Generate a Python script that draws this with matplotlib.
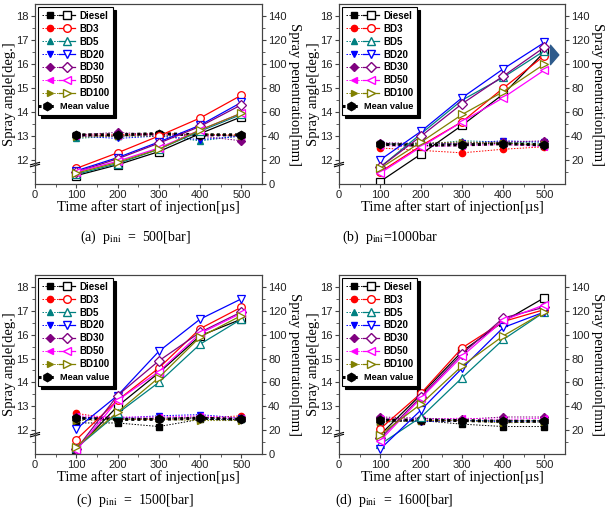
import matplotlib
matplotlib.use("Agg")
import matplotlib.pyplot as plt
from matplotlib.lines import Line2D
from matplotlib.legend_handler import HandlerTuple, HandlerLine2D

plt.rcParams['font.family'] = ['Liberation Sans', 'DejaVu Sans']
plt.rcParams['mathtext.fontset'] = 'stix'

time = [100, 200, 300, 400, 500]
fuels = ['Diesel', 'BD3', 'BD5', 'BD20', 'BD30', 'BD50', 'BD100']
colors = ['#000000', '#ff0000', '#008080', '#0000ff', '#800080', '#ff00ff', '#808000']
markers = ['s', 'o', '^', 'v', 'D', '<', '>']

# spray angle [deg.] (filled markers), order as fuels
angle_a = [[13.05, 13.0, 13.1, 13.05, 13.0],
           [13.05, 13.05, 13.1, 13.05, 13.05],
           [12.9, 13.0, 13.0, 12.8, 13.0],
           [13.0, 12.9, 13.0, 12.85, 13.0],
           [13.05, 13.15, 13.05, 13.0, 12.8],
           [13.0, 13.0, 13.05, 13.05, 13.0],
           [12.95, 13.0, 13.0, 13.1, 13.0]]
mean_a = [13.05, 13.05, 13.1, 13.05, 13.05]
# spray penetration [mm] (open markers)
pen_a = [[7, 16, 27, 42, 56],
         [13, 26, 40, 55, 74],
         [8, 17, 29, 44, 58],
         [11, 22, 35, 49, 68],
         [10, 21, 34, 48, 66],
         [10, 19, 30, 45, 59],
         [9, 18, 29, 45, 59]]

angle_b = [[12.65, 12.6, 12.65, 12.7, 12.6],
           [12.5, 12.4, 12.3, 12.45, 12.55],
           [12.7, 12.65, 12.8, 12.75, 12.7],
           [12.65, 12.7, 12.7, 12.8, 12.75],
           [12.72, 12.7, 12.7, 12.75, 12.8],
           [12.6, 12.55, 12.6, 12.65, 12.55],
           [12.65, 12.7, 12.75, 12.7, 12.65]]
mean_b = [12.65, 12.62, 12.63, 12.68, 12.63]
pen_b = [[2, 25, 49, 75, 110],
         [10, 32, 52, 80, 107],
         [14, 42, 70, 89, 111],
         [20, 44, 72, 96, 118],
         [14, 40, 67, 90, 114],
         [9, 31, 52, 72, 95],
         [13, 35, 58, 77, 100]]

angle_c = [[12.3, 12.3, 12.15, 12.45, 12.45],
           [12.7, 12.45, 12.45, 12.5, 12.6],
           [12.5, 12.45, 12.5, 12.5, 12.45],
           [12.5, 12.5, 12.6, 12.65, 12.5],
           [12.55, 12.5, 12.5, 12.55, 12.45],
           [12.6, 12.55, 12.55, 12.6, 12.5],
           [12.4, 12.45, 12.45, 12.4, 12.4]]
mean_c = [12.5, 12.45, 12.45, 12.5, 12.45]
pen_c = [[4, 40, 68, 99, 113],
         [12, 45, 72, 105, 123],
         [5, 34, 60, 92, 113],
         [21, 49, 86, 113, 130],
         [4, 49, 78, 102, 119],
         [3, 45, 69, 101, 118],
         [6, 35, 64, 98, 116]]

angle_d = [[12.35, 12.4, 12.25, 12.15, 12.15],
           [12.45, 12.4, 12.4, 12.4, 12.4],
           [12.3, 12.5, 12.4, 12.4, 12.4],
           [12.45, 12.35, 12.4, 12.35, 12.35],
           [12.55, 12.5, 12.45, 12.55, 12.55],
           [12.5, 12.45, 12.5, 12.45, 12.5],
           [12.35, 12.4, 12.4, 12.3, 12.35]]
mean_d = [12.42, 12.42, 12.4, 12.37, 12.37]
pen_d = [[16, 50, 86, 111, 131],
         [21, 51, 89, 111, 121],
         [8, 31, 64, 96, 119],
         [4, 37, 72, 106, 119],
         [13, 48, 84, 114, 123],
         [11, 47, 82, 112, 125],
         [16, 42, 74, 99, 119]]

captions = ['(a)  p$_{\\mathrm{ini}}$  =  500[bar]', '(b)  p$_{\\mathrm{ini}}$=1000bar',
            '(c)  p$_{\\mathrm{ini}}$  =  1500[bar]', '(d)  p$_{\\mathrm{ini}}$  =  1600[bar]']
right_ticks = [[0, 20, 40, 60, 80, 100, 120, 140], [20, 40, 60, 80, 100, 120, 140],
               [0, 20, 40, 60, 80, 100, 120, 140], [20, 40, 60, 80, 100, 120, 140]]

panels = [(angle_a, mean_a, pen_a), (angle_b, mean_b, pen_b),
          (angle_c, mean_c, pen_c), (angle_d, mean_d, pen_d)]
positions = [[0.0573, 0.6434, 0.3715, 0.3488], [0.5548, 0.6434, 0.3699, 0.3488],
             [0.0573, 0.1202, 0.3715, 0.3469], [0.5548, 0.1202, 0.3699, 0.3469]]
cap_xy = [(0.221, 0.541), (0.638, 0.541), (0.221, 0.031), (0.646, 0.031)]

serif = ['Liberation Serif', 'DejaVu Serif']


class HandlerShort(HandlerLine2D):
    # mean value entry uses a shorter handle, pulled to the left
    def create_artists(self, legend, orig_handle, xdescent, ydescent,
                       width, height, fontsize, trans):
        return super().create_artists(legend, orig_handle, xdescent + width * 0.12,
                                      ydescent, width * 0.52, height, fontsize, trans)


fig = plt.figure(figsize=(6.11, 5.16), dpi=100)

for k, (angle, mean, pen) in enumerate(panels):
    ax = fig.add_axes(positions[k])
    ax2 = ax.twinx()
    for i, f in enumerate(fuels):
        ax.plot(time, angle[i], ls=(0, (1.5, 1.5)), lw=0.7, color=colors[i],
                marker=markers[i], ms=4.5, mfc=colors[i], mec=colors[i])
        ax2.plot(time, pen[i], ls='-', lw=0.9, color=colors[i],
                 marker=markers[i], ms=5.5, mfc='white', mec=colors[i], mew=0.9)
    ax.plot(time, mean, ls=(0, (1, 1)), lw=2.2, color='black',
            marker='h', ms=6, zorder=5)

    ax.set_xlim(0, 550)
    ax.set_ylim(11, 18.5)
    ax2.set_ylim(0, 150)
    ax.set_xticks([0, 100, 200, 300, 400, 500])
    ax.set_xticks([50, 150, 250, 350, 450], minor=True)
    ax.set_yticks([12, 13, 14, 15, 16, 17, 18])
    ax.set_yticks([11.5, 12.5, 13.5, 14.5, 15.5, 16.5, 17.5], minor=True)
    ax2.set_yticks(right_ticks[k])
    ax2.set_yticks([10, 30, 50, 70, 90, 110, 130], minor=True)
    for a in (ax, ax2):
        a.tick_params(labelsize=8, direction='out', length=3, pad=1.5,
                      color='#444444', labelcolor='#222222')
        a.tick_params(which='minor', direction='out', length=2, color='#444444')
        for s in a.spines.values():
            s.set_linewidth(0.8)
            s.set_color('#444444')

    ax.set_xlabel('Time after start of injection[\u00b5s]', family=serif, fontsize=10.5, labelpad=0)
    ax.set_ylabel('Spray angle[deg.]', family=serif, fontsize=10.5, labelpad=0)
    ax2.set_ylabel('Spray penentration[mm]', family=serif, fontsize=10.5,
                   rotation=270, va='bottom', labelpad=1)

    # axis break mark on the left spine
    tr = ax.get_yaxis_transform()
    ax.plot([-0.02, 0.02], [11.80, 11.90], transform=tr, color='black', lw=0.8, clip_on=False)
    ax.plot([-0.02, 0.02], [11.72, 11.82], transform=tr, color='black', lw=0.8, clip_on=False)

    handles = []
    for i in range(len(fuels)):
        h1 = Line2D([], [], ls=(0, (1.5, 1.5)), lw=0.7, color=colors[i],
                    marker=markers[i], ms=4.5, mfc=colors[i], mec=colors[i])
        h2 = Line2D([], [], ls='-', lw=0.9, color=colors[i],
                    marker=markers[i], ms=5.5, mfc='white', mec=colors[i])
        handles.append((h1, h2))
    mean_handle = Line2D([], [], ls=(0, (1, 1)), lw=2.2, color='black', marker='h', ms=6)
    handles.append(mean_handle)
    labels = fuels + [' ']
    leg = ax2.legend(handles, labels, loc='upper left', bbox_to_anchor=(0.005, 0.995),
                     handler_map={tuple: HandlerTuple(ndivide=None, pad=0.2),
                                  mean_handle: HandlerShort()},
                     prop={'weight': 'bold', 'size': 7}, handlelength=3.4,
                     handletextpad=0.4, labelspacing=0.3, borderpad=0.4,
                     borderaxespad=0.2, fancybox=False, edgecolor='black',
                     framealpha=1, shadow={'color': 'black', 'alpha': 1})
    leg.get_frame().set_linewidth(0.8)
    ax2.annotate('Mean value', xy=(0, 0.5), xycoords=leg.get_texts()[-1],
                 xytext=(-19, 0), textcoords='offset pixels', va='center', ha='left',
                 fontsize=6.6, fontweight='bold', zorder=6, annotation_clip=False)

    if k == 1:
        ax2.annotate('', xy=(0.985, 0.717), xytext=(0.925, 0.717), xycoords='axes fraction',
                     arrowprops=dict(arrowstyle='simple,head_length=0.6,head_width=1.4,tail_width=0.8',
                                     color='#2e5b8c', mutation_scale=10), annotation_clip=False)

    fig.text(cap_xy[k][0], cap_xy[k][1], captions[k], family=serif, fontsize=10,
             ha='center', va='center')

fig.savefig('out.png', dpi=100)
